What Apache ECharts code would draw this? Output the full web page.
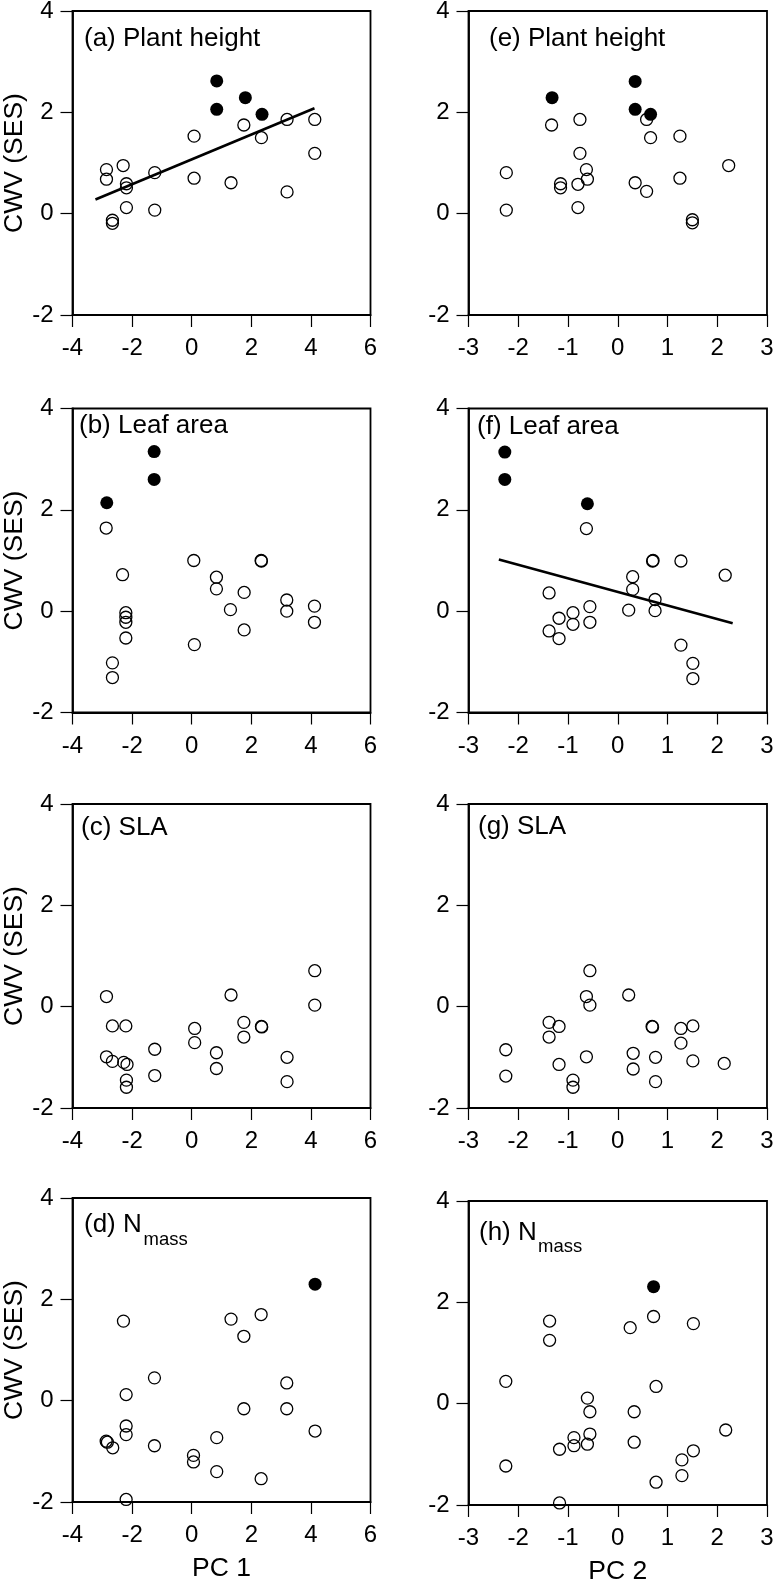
<!DOCTYPE html>
<html><head><meta charset="utf-8">
<script src="https://cdn.jsdelivr.net/npm/echarts@6/dist/echarts.min.js"></script>
<style>html,body{margin:0;padding:0;background:#fff}#c{width:776px;height:1584px}</style>
</head><body><div id="c"></div>
<script>
// ---------- tick labels ----------
const pc1Ticks = [-4, -2, 0, 2, 4, 6];
const pc2Ticks = [-3, -2, -1, 0, 1, 2, 3];
const cwvTicks = [-2, 0, 2, 4];

// ---------- panel titles ----------
const panelTitles = ['(a) Plant height', '(b) Leaf area', '(c) SLA', '(d) N',
                     '(e) Plant height', '(f) Leaf area', '(g) SLA', '(h) N'];
const subscriptText = 'mass';
const xAxisTitles = ['PC 1', 'PC 2'];
const yAxisTitle = 'CWV (SES)';

// ---------- (a) Plant height vs PC 1 ----------
const a_openX = [-2.86, -2.86, -2.30, -2.19, -2.19, -2.19, -2.66, -2.66, -1.24, -1.24, 0.08, 0.08, 1.32, 1.75, 2.34, 3.20, 3.20, 4.13, 4.13];
const a_openY = [0.87, 0.68, 0.95, 0.59, 0.51, 0.12, -0.13, -0.19, 0.81, 0.07, 1.53, 0.70, 0.61, 1.75, 1.50, 1.86, 0.43, 1.86, 1.19];
const a_fillX = [0.84, 0.84, 1.80, 2.36];
const a_fillY = [2.62, 2.06, 2.29, 1.96];
const a_lineX = [-3.23, 4.12];
const a_lineY = [0.28, 2.08];

// ---------- (b) Leaf area vs PC 1 ----------
const b_openX = [-2.87, -2.32, -2.21, -2.21, -2.21, -2.21, -2.66, -2.66, 0.07, 0.09, 0.83, 0.83, 1.30, 1.76, 1.76, 2.33, 2.34, 3.19, 3.19, 4.12, 4.12];
const b_openY = [1.64, 0.72, -0.03, -0.12, -0.22, -0.53, -1.02, -1.31, 1.00, -0.66, 0.67, 0.44, 0.03, 0.37, -0.37, 1.00, 0.99, 0.22, 0.00, 0.10, -0.22];
const b_fillX = [-2.85, -1.26, -1.26];
const b_fillY = [2.14, 3.15, 2.60];

// ---------- (c) SLA vs PC 1 ----------
const c_openX = [-2.86, -2.86, -2.66, -2.66, -2.21, -2.28, -2.17, -2.19, -2.19, -1.24, -1.24, 0.10, 0.10, 0.83, 0.83, 1.32, 1.75, 1.75, 2.34, 2.35, 3.20, 3.20, 4.13, 4.13];
const c_openY = [0.20, -0.99, -0.38, -1.08, -0.38, -1.10, -1.14, -1.45, -1.59, -0.84, -1.36, -0.43, -0.71, -0.91, -1.22, 0.23, -0.31, -0.60, -0.39, -0.40, -1.00, -1.48, 0.71, 0.03];

// ---------- (d) N mass vs PC 1 ----------
const d_openX = [-2.87, -2.83, -2.65, -2.29, -2.20, -2.20, -2.20, -2.20, -1.25, -1.25, 0.06, 0.06, 0.84, 0.84, 1.32, 1.75, 1.75, 2.33, 2.33, 3.19, 3.19, 4.14];
const d_openY = [-0.80, -0.82, -0.93, 1.57, 0.12, -0.50, -0.67, -1.95, 0.45, -0.89, -1.08, -1.21, -0.73, -1.40, 1.61, 1.27, -0.16, 1.70, -1.54, 0.35, -0.16, -0.60];
const d_fillX = [4.14];
const d_fillY = [2.30];

// ---------- (e) Plant height vs PC 2 ----------
const e_openX = [-2.24, -2.24, -1.33, -1.15, -1.15, -0.76, -0.76, -0.80, -0.80, -0.63, -0.61, 0.35, 0.58, 0.58, 0.66, 1.25, 1.25, 1.50, 1.50, 2.23];
const e_openY = [0.81, 0.07, 1.75, 0.59, 0.51, 1.86, 1.19, 0.58, 0.12, 0.87, 0.68, 0.61, 1.86, 0.44, 1.50, 1.53, 0.70, -0.12, -0.18, 0.95];
const e_fillX = [-1.32, 0.35, 0.35, 0.66];
const e_fillY = [2.29, 2.61, 2.06, 1.96];

// ---------- (f) Leaf area vs PC 2 ----------
const f_openX = [-0.63, -1.38, -1.38, -1.18, -1.18, -0.90, -0.90, -0.56, -0.56, 0.22, 0.30, 0.30, 0.70, 0.71, 0.75, 0.75, 1.27, 1.27, 1.51, 1.51, 2.16];
const f_openY = [1.63, 0.36, -0.39, -0.14, -0.54, -0.03, -0.26, 0.09, -0.22, 0.02, 0.68, 0.43, 0.99, 1.00, 0.23, 0.01, 0.99, -0.67, -1.03, -1.33, 0.71];
const f_fillX = [-2.27, -2.27, -0.61];
const f_fillY = [3.14, 2.60, 2.12];
const f_lineX = [-2.39, 2.31];
const f_lineY = [1.02, -0.24];

// ---------- (g) SLA vs PC 2 ----------
const g_openX = [-2.25, -2.25, -1.38, -1.38, -1.18, -1.18, -0.90, -0.90, -0.63, -0.63, -0.56, -0.56, 0.22, 0.31, 0.31, 0.69, 0.70, 0.76, 0.76, 1.27, 1.27, 1.51, 1.51, 2.14];
const g_openY = [-0.85, -1.37, -0.31, -0.60, -0.39, -1.14, -1.45, -1.59, 0.20, -0.99, 0.71, 0.03, 0.23, -0.92, -1.23, -0.39, -0.40, -1.00, -1.48, -0.43, -0.72, -0.38, -1.07, -1.12];

// ---------- (h) N mass vs PC 2 ----------
const h_openX = [-2.25, -2.25, -1.37, -1.37, -1.17, -1.17, -0.88, -0.88, -0.61, -0.61, -0.56, -0.56, 0.25, 0.33, 0.33, 0.72, 0.77, 0.77, 1.29, 1.29, 1.52, 1.52, 2.17];
const h_openY = [0.44, -1.23, 1.63, 1.25, -0.90, -1.96, -0.67, -0.83, 0.11, -0.80, -0.16, -0.60, 1.50, -0.16, -0.76, 1.72, 0.34, -1.55, -1.11, -1.42, 1.58, -0.93, -0.52];
const h_fillX = [0.72];
const h_fillY = [2.31];

// ---------- build chart ----------
const FONT = '"Liberation Sans", Arial, Helvetica, sans-serif';
const zip = (xs, ys) => xs.map((x, i) => [x, ys[i]]);

const panels = [
  { open: [a_openX, a_openY], fill: [a_fillX, a_fillY], line: [a_lineX, a_lineY], xt: pc1Ticks, col: 0, row: 0 },
  { open: [b_openX, b_openY], fill: [b_fillX, b_fillY], line: null, xt: pc1Ticks, col: 0, row: 1 },
  { open: [c_openX, c_openY], fill: null, line: null, xt: pc1Ticks, col: 0, row: 2 },
  { open: [d_openX, d_openY], fill: [d_fillX, d_fillY], line: null, xt: pc1Ticks, col: 0, row: 3 },
  { open: [e_openX, e_openY], fill: [e_fillX, e_fillY], line: null, xt: pc2Ticks, col: 1, row: 0 },
  { open: [f_openX, f_openY], fill: [f_fillX, f_fillY], line: [f_lineX, f_lineY], xt: pc2Ticks, col: 1, row: 1 },
  { open: [g_openX, g_openY], fill: null, line: null, xt: pc2Ticks, col: 1, row: 2 },
  { open: [h_openX, h_openY], fill: [h_fillX, h_fillY], line: null, xt: pc2Ticks, col: 1, row: 3 }
];

// layout (pixels)
const colLeft = [72.5, 468.5];
const colWidth = [298, 298.5];
const rowTop = [[11, 408.5, 804, 1198], [11, 408.5, 804, 1201]];
const plotH = 304;
const titlePos = [[84, 38.7], [79, 426], [81, 828], [84, 1225], [489, 39], [477, 426.6], [478, 826.7], [479, 1232.5]];
const subPos = [null, null, null, [143.5, 1240], null, null, null, [538, 1247]];

const grid = [], xAxis = [], yAxis = [], series = [], graphic = [];
panels.forEach((p, i) => {
  grid.push({
    left: colLeft[p.col], top: rowTop[p.col][p.row], width: colWidth[p.col], height: plotH,
    show: true, borderColor: '#000', borderWidth: 1.8, backgroundColor: 'transparent',
    outerBoundsMode: 'none', containLabel: false
  });
  const axisCommon = {
    gridIndex: i, type: 'value',
    axisLine: { show: true, onZero: false, lineStyle: { color: '#000', width: 1.8 } },
    axisTick: { show: true, inside: false, length: 12, lineStyle: { color: '#000', width: 1.2 } },
    splitLine: { show: false },
    nameTextStyle: { color: '#000', fontSize: 26.5, fontFamily: FONT }
  };
  const xt = p.xt;
  xAxis.push(Object.assign({}, axisCommon, {
    position: 'bottom',
    min: xt[0], max: xt[xt.length - 1], interval: xt[1] - xt[0],
    axisLabel: { show: true, color: '#000', fontSize: 24, fontFamily: FONT, margin: 21.5,
                 showMinLabel: true, showMaxLabel: true, hideOverlap: false },
    name: p.row === 3 ? xAxisTitles[p.col] : '',
    nameLocation: 'middle', nameGap: 53
  }));
  yAxis.push(Object.assign({}, axisCommon, {
    position: 'left',
    min: cwvTicks[0], max: cwvTicks[cwvTicks.length - 1], interval: cwvTicks[1] - cwvTicks[0],
    axisLabel: { show: true, color: '#000', fontSize: 24, fontFamily: FONT, margin: 19,
                 showMinLabel: true, showMaxLabel: true, hideOverlap: false },
    name: p.col === 0 ? yAxisTitle : '',
    nameLocation: 'middle', nameGap: 43, nameRotate: 90
  }));
  if (p.line) {
    series.push({
      type: 'line', xAxisIndex: i, yAxisIndex: i, data: zip(p.line[0], p.line[1]),
      showSymbol: false, symbol: 'none', silent: true, z: 2,
      lineStyle: { color: '#000', width: 2.6 }
    });
  }
  series.push({
    type: 'scatter', xAxisIndex: i, yAxisIndex: i, data: zip(p.open[0], p.open[1]),
    symbol: 'circle', symbolSize: 12, silent: true, z: 3,
    itemStyle: { color: 'rgba(255,255,255,0)', borderColor: '#000', borderWidth: 1.3, opacity: 1 }
  });
  if (p.fill) {
    series.push({
      type: 'scatter', xAxisIndex: i, yAxisIndex: i, data: zip(p.fill[0], p.fill[1]),
      symbol: 'circle', symbolSize: 13, silent: true, z: 4,
      itemStyle: { color: '#000', borderWidth: 0, opacity: 1 }
    });
  }
  graphic.push({
    type: 'text', x: titlePos[i][0], y: titlePos[i][1], z: 10, silent: true,
    style: { text: panelTitles[i], fill: '#000', fontSize: 26, fontFamily: FONT,
             align: 'left', verticalAlign: 'middle', textAlign: 'left', textVerticalAlign: 'middle' }
  });
  if (subPos[i]) {
    graphic.push({
      type: 'text', x: subPos[i][0], y: subPos[i][1], z: 10, silent: true,
      style: { text: subscriptText, fill: '#000', fontSize: 18.5, fontFamily: FONT,
               align: 'left', verticalAlign: 'middle', textAlign: 'left', textVerticalAlign: 'middle' }
    });
  }
});

const chart = echarts.init(document.getElementById('c'), null, { renderer: 'canvas', width: 776, height: 1584 });
chart.setOption({
  animation: false,
  backgroundColor: '#fff',
  textStyle: { fontFamily: FONT },
  grid, xAxis, yAxis, series, graphic
});
</script></body></html>
